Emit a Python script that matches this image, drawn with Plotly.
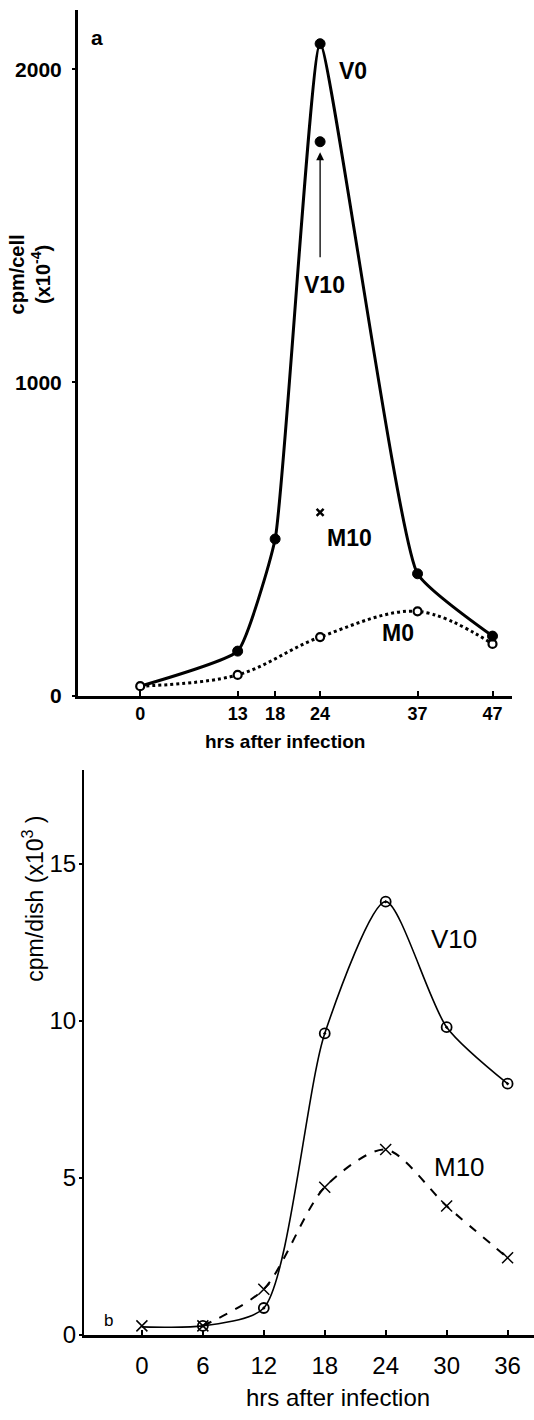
import plotly.graph_objects as go

# ---- Panel a data ----
a_hours = [0, 13, 18, 24, 37, 47]
a_V0 = [30, 142, 500, 2082, 389, 190]
a_M0 = [30, 66, 187, 269, 165]
a_M0_hours = [0, 13, 24, 37, 47]
a_V10_hour, a_V10_val = [24], [1769]
a_M10_hour, a_M10_val = [24], [585]
a_xticks = [0, 13, 18, 24, 37, 47]
a_yticks = [0, 1000, 2000]

# ---- Panel b data ----
b_hours = [0, 6, 12, 18, 24, 30, 36]
b_V10 = [0.25, 0.28, 0.85, 9.6, 13.8, 9.8, 8.0]
b_M10 = [0.28, 0.28, 1.45, 4.7, 5.9, 4.1, 2.45]
b_xticks = [0, 6, 12, 18, 24, 30, 36]
b_yticks = [0, 5, 10, 15]

W, H = 534, 1420
def px(x):
    return x / W
def py(y):
    return 1 - y / H

BOLD = dict(family="Liberation Sans", color="black", weight="bold")
REG = dict(family="Liberation Sans", color="black")

fig = go.Figure()

# Panel a
fig.add_trace(go.Scatter(x=a_M0_hours, y=a_M0, mode="lines", xaxis="x", yaxis="y",
                         line=dict(color="black", width=3, dash="dot", shape="spline", smoothing=1),
                         showlegend=False))
fig.add_trace(go.Scatter(x=a_hours, y=a_V0, mode="lines", xaxis="x", yaxis="y",
                         line=dict(color="black", width=3, shape="spline", smoothing=0.4),
                         showlegend=False))
fig.add_trace(go.Scatter(x=a_M0_hours, y=a_M0, mode="markers", xaxis="x", yaxis="y",
                         marker=dict(symbol="circle", size=8, color="white", line=dict(color="black", width=2.2)),
                         showlegend=False))
fig.add_trace(go.Scatter(x=a_hours[1:], y=a_V0[1:], mode="markers", xaxis="x", yaxis="y",
                         marker=dict(symbol="circle", size=10, color="black", line=dict(color="black", width=1)),
                         showlegend=False))
fig.add_trace(go.Scatter(x=a_V10_hour, y=a_V10_val, mode="markers", xaxis="x", yaxis="y",
                         marker=dict(symbol="circle", size=10, color="black", line=dict(color="black", width=1)),
                         showlegend=False))
fig.add_trace(go.Scatter(x=a_M10_hour, y=a_M10_val, mode="markers", xaxis="x", yaxis="y",
                         marker=dict(symbol="x-thin", size=7, line=dict(color="black", width=2.5)),
                         showlegend=False))

# Panel b
fig.add_trace(go.Scatter(x=b_hours, y=b_V10, mode="lines", xaxis="x2", yaxis="y2",
                         line=dict(color="black", width=1.6, shape="spline", smoothing=0.7),
                         showlegend=False))
fig.add_trace(go.Scatter(x=b_hours[1:], y=b_V10[1:], mode="markers", xaxis="x2", yaxis="y2",
                         marker=dict(symbol="circle-open-dot", size=10,
                                     color="black", line=dict(color="black", width=1.8)),
                         showlegend=False))
fig.add_trace(go.Scatter(x=b_hours[1:], y=b_M10[1:], mode="lines+markers", xaxis="x2", yaxis="y2",
                         line=dict(color="black", width=2, dash="dash", shape="spline", smoothing=0.8),
                         marker=dict(symbol="x-thin", size=11, line=dict(color="black", width=1.5)),
                         showlegend=False))
fig.add_trace(go.Scatter(x=b_hours[:1], y=b_M10[:1], mode="markers", xaxis="x2", yaxis="y2",
                         marker=dict(symbol="x-thin", size=11, line=dict(color="black", width=1.5)),
                         showlegend=False))

ann = []
# panel a labels
ann += [
    dict(x=-6.8, y=2101, xref="x", yref="y", text="a", showarrow=False, xanchor="left", yanchor="middle",
         font=dict(size=21, **BOLD)),
    dict(x=26.2, y=1994, xref="x", yref="y", text="V0", showarrow=False, xanchor="left", yanchor="middle",
         font=dict(size=23, **BOLD)),
    dict(x=21.6, y=1310, xref="x", yref="y", text="V10", showarrow=False, xanchor="left", yanchor="middle",
         font=dict(size=23, **BOLD)),
    dict(x=24.6, y=503, xref="x", yref="y", text="M10", showarrow=False, xanchor="left", yanchor="middle",
         font=dict(size=23, **BOLD)),
    dict(x=32.0, y=199, xref="x", yref="y", text="M0", showarrow=False, xanchor="left", yanchor="middle",
         font=dict(size=23, **BOLD)),
    dict(x=24, y=1735, ax=24, ay=1395, xref="x", yref="y", axref="x", ayref="y", text="",
         showarrow=True, arrowhead=2, arrowsize=1.2, arrowwidth=1.3, arrowcolor="black"),
    dict(x=px(30), y=py(277), xref="paper", yref="paper", text="cpm/cell<br>(x10<sup>-4</sup>)",
         xanchor="center", yanchor="middle",
         showarrow=False, textangle=-90, font=dict(size=20, **BOLD)),
    dict(x=px(285), y=py(748), xref="paper", yref="paper", text="hrs after infection",
         xanchor="center", yanchor="middle",
         showarrow=False, font=dict(size=19, **BOLD)),
]
# panel b labels
ann += [
    dict(x=-3.9, y=0.45, xref="x2", yref="y2", text="b", showarrow=False, xanchor="left", yanchor="middle",
         font=dict(size=17, **REG)),
    dict(x=28.3, y=12.6, xref="x2", yref="y2", text="V10", showarrow=False, xanchor="left", yanchor="middle",
         font=dict(size=26, **REG)),
    dict(x=28.6, y=5.35, xref="x2", yref="y2", text="M10", showarrow=False, xanchor="left", yanchor="middle",
         font=dict(size=26, **REG)),
    dict(x=px(33), y=py(907), xref="paper", yref="paper", text="cpm/dish (x10<sup>3</sup> )",
         xanchor="center", yanchor="middle",
         showarrow=False, textangle=-90, font=dict(size=23, **REG)),
    dict(x=px(338), y=py(1410), xref="paper", yref="paper", text="hrs after infection",
         xanchor="center", yanchor="middle",
         showarrow=False, font=dict(size=24, **REG)),
]

fig.update_layout(
    width=W, height=H, margin=dict(l=0, r=0, t=0, b=0),
    paper_bgcolor="white", plot_bgcolor="white", showlegend=False,
    annotations=ann,
    xaxis=dict(domain=[px(78), px(512)], range=[-8.3, 49.6], anchor="y",
               tickvals=a_xticks, ticks="inside", ticklen=5, tickwidth=2, tickcolor="black",
               showline=True, linewidth=3, linecolor="black", showgrid=False, zeroline=False,
               tickfont=dict(size=18, **BOLD)),
    yaxis=dict(domain=[py(702), py(10)], range=[0, 2190], anchor="x",
               tickvals=a_yticks, ticks="outside", ticklen=3, tickwidth=2, tickcolor="black",
               ticklabelstandoff=6,
               showline=True, linewidth=3, linecolor="black", showgrid=False, zeroline=False,
               tickfont=dict(size=21, **BOLD)),
    xaxis2=dict(domain=[px(84), 1.0], range=[-5.7, 38.6], anchor="y2",
                tickvals=b_xticks, ticks="inside", ticklen=5, tickwidth=1.5, tickcolor="black",
                ticklabelstandoff=8,
                showline=True, linewidth=2.5, linecolor="black", showgrid=False, zeroline=False,
                tickfont=dict(size=24, **REG)),
    yaxis2=dict(domain=[py(1347), py(777)], range=[0, 18], anchor="x2",
                tickvals=b_yticks, ticks="outside", ticklen=3, tickwidth=1.5, tickcolor="black",
                ticklabelstandoff=-2,
                showline=True, linewidth=2, linecolor="black", showgrid=False, zeroline=False,
                tickfont=dict(size=24, **REG)),
)

fig.write_html("out.html")
